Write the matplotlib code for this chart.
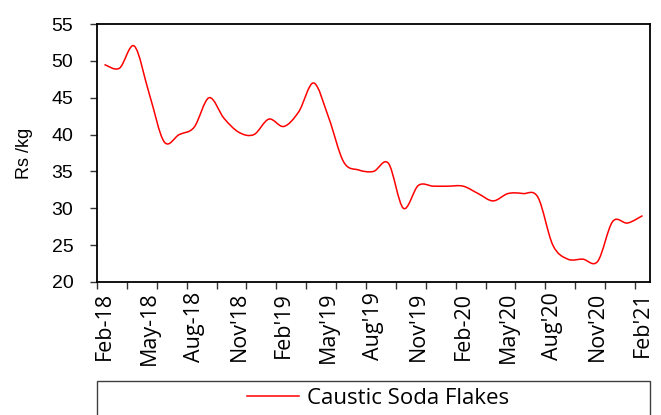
"""Caustic soda flakes price trend, Feb-18 to Feb-21."""

import matplotlib
matplotlib.use("Agg")
import matplotlib.pyplot as plt
import matplotlib.patches as mpatches
from matplotlib.path import Path
from matplotlib.lines import Line2D
import numpy as np

months = [
    "Feb-18", "Mar-18", "Apr-18", "May-18", "Jun-18", "Jul-18", "Aug-18", "Sep-18", "Oct-18",
    "Nov'18", "Dec'18", "Jan'19", "Feb'19", "Mar'19", "Apr'19", "May'19", "Jun'19", "Jul'19",
    "Aug'19", "Sep'19", "Oct'19", "Nov'19", "Dec'19", "Jan'20", "Feb-20", "Mar'20", "Apr'20",
    "May'20", "Jun'20", "Jul'20", "Aug'20", "Sep'20", "Oct'20", "Nov'20", "Dec'20", "Jan'21",
    "Feb'21",
]
price = [
    49.5, 49.0, 52.0, 45.5, 39.0, 40.0, 41.0, 45.0, 42.2, 40.3, 40.0, 42.1, 41.1,
    43.1, 47.0, 42.3, 36.3, 35.2, 35.0, 36.1, 30.0, 33.1, 33.0, 33.0, 33.0, 32.0,
    31.0, 32.0, 32.0, 31.5, 25.0, 23.1, 23.1, 22.8, 28.2, 28.0, 29.0,
]
label_every = 3
series_name = "Caustic Soda Flakes"


def smooth_path(x, y):
    """Excel-style smoothed line as cubic Bezier segments (Catmull-Rom)."""
    pts = np.column_stack([x, y]).astype(float)
    n = len(pts)
    verts = [pts[0]]
    codes = [Path.MOVETO]
    for i in range(n - 1):
        p0 = pts[i - 1] if i > 0 else pts[i]
        p1, p2 = pts[i], pts[i + 1]
        p3 = pts[i + 2] if i + 2 < n else pts[i + 1]
        c1 = p1 + (p2 - p0) / 6.0
        c2 = p2 - (p3 - p1) / 6.0
        verts += [c1, c2, p2]
        codes += [Path.CURVE4] * 3
    return Path(verts, codes)


fig = plt.figure(figsize=(6.61, 4.15), dpi=100)
ax = fig.add_axes([97 / 661, 133 / 415, 553 / 661, 258 / 415])

x = np.arange(len(months))
ax.add_patch(mpatches.PathPatch(smooth_path(x, price), facecolor="none",
                                edgecolor="#ff0000", linewidth=1.1))

ax.set_xlim(-0.5, len(months) - 0.5)
ax.set_ylim(20, 55)
ax.set_yticks(np.arange(20, 56, 5))

# category axis: labels every 3 months, tick marks every 2 categories
ax.set_xticks(x[::label_every])
ax.set_xticklabels(months[::label_every], rotation=90, fontsize=15.5,
                   family="Open Sans")
ax.set_xticks(np.arange(-0.5, len(months) - 1, 2), minor=True)
ax.tick_params(axis="x", which="major", length=0, pad=7)
ax.tick_params(axis="x", which="minor", direction="out", length=5, width=1, color="#333333")
ax.tick_params(axis="y", direction="out", length=5, width=1, color="#333333", pad=12,
               labelsize=14)
for lbl in ax.get_yticklabels():
    lbl.set_family("Liberation Sans")

for s in ax.spines.values():
    s.set_linewidth(1.3)
    s.set_color("black")

ax.set_ylabel("Rs /kg", family="Liberation Sans", fontsize=13)
ax.yaxis.set_label_coords(-64 / 553, 0.5)

# legend box running off the bottom of the figure
fig.patches.append(mpatches.Rectangle((97 / 661, -0.05), 553 / 661, (415 - 381) / 415 + 0.05,
                                      transform=fig.transFigure, facecolor="white",
                                      edgecolor="#404040", linewidth=1))
handle = Line2D([], [], color="#ff0000", linewidth=1.1)
fig.legend([handle], [series_name], loc="center", bbox_to_anchor=(378 / 661, 17 / 415),
           frameon=False, handlelength=2.35, handletextpad=0.35,
           prop={"family": "Open Sans", "size": 16})

fig.savefig("out.png", dpi=100)
